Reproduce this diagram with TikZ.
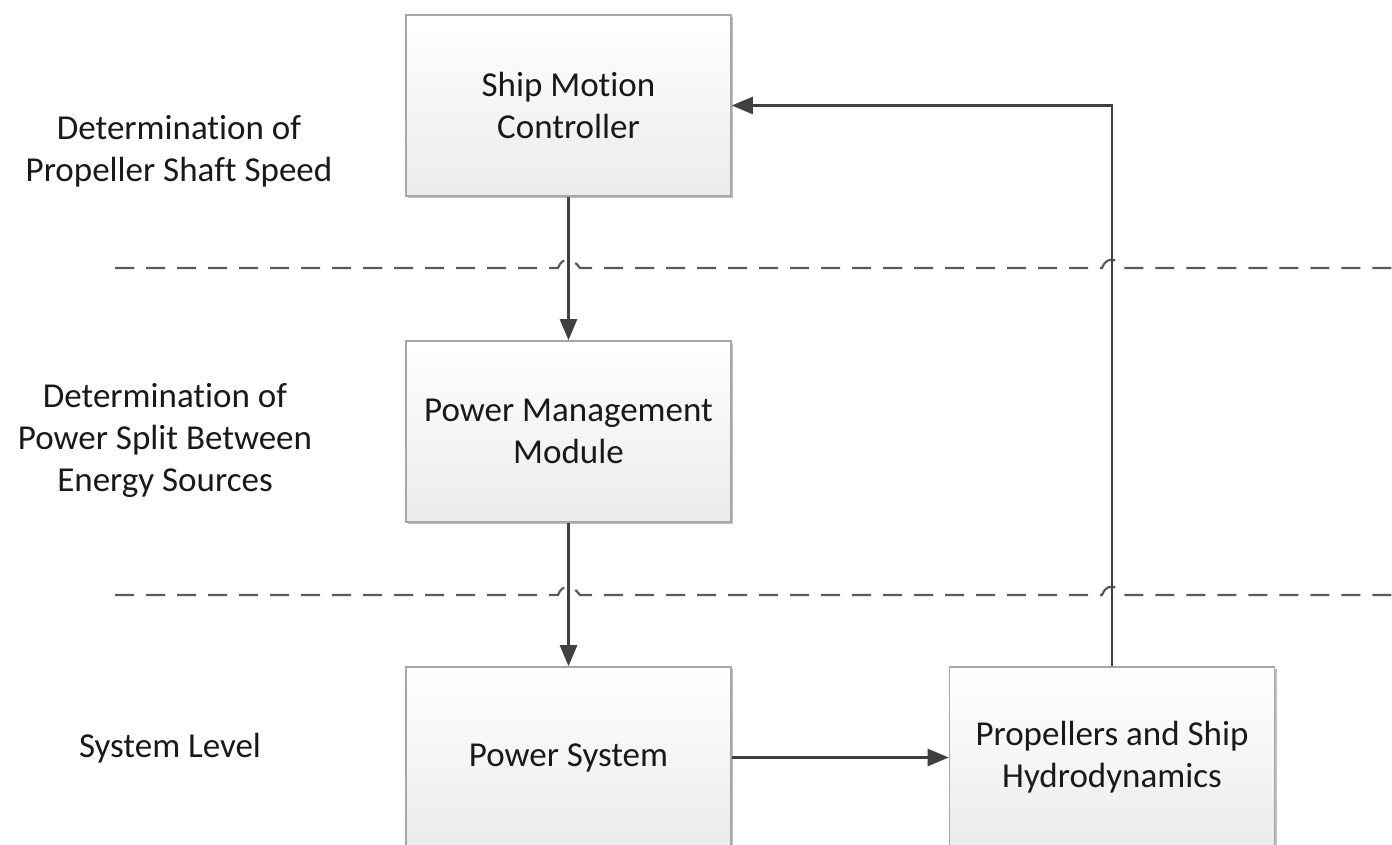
\documentclass[tikz,border=0pt]{standalone}
\usepackage{fontspec}
\setmainfont[Ligatures=NoCommon]{Carlito}
\usetikzlibrary{arrows.meta,shadows}
\definecolor{linegray}{HTML}{404040}
\definecolor{boxborder}{HTML}{A6A6A6}
\definecolor{boxbottom}{HTML}{EBEBEB}
\definecolor{dashgray}{HTML}{5A5A5A}
\tikzset{
  blockbox/.style={draw=boxborder, line width=1.6pt, top color=white, bottom color=boxbottom,
    minimum width=325pt, minimum height=181pt, align=center, inner sep=0pt,
    font=\fontsize{35}{42}\selectfont, text=black!90,
    drop shadow={shadow xshift=2pt, shadow yshift=-2pt, opacity=0.25, fill=black}},
  flowline/.style={draw=linegray, line width=2.6pt, -{Triangle[length=21pt,width=17pt]}},
  levelline/.style={draw=dashgray, line width=2.2pt, dash pattern=on 19pt off 12pt},
  leveltext/.style={align=center, font=\fontsize{35}{42}\selectfont, text=black!90, inner sep=0pt}
}
\begin{document}
\begin{tikzpicture}[x=1pt,y=-1pt]
\useasboundingbox (0,0) rectangle (1392,844);
\clip (0,0) rectangle (1392,844);
\fill[white] (0,0) rectangle (1392,844);

% level texts
\node[leveltext] (t1) at (179,151) {Determination of\\Propeller Shaft Speed};
\node[leveltext] (t2) at (165,440) {Determination of\\Power Split Between\\Energy Sources};
\node[leveltext] (t3) at (170,748) {System Level};

% dashed level separators with hops
\draw[levelline] (115,268) -- (558,268) .. controls (562,257) and (572,257) .. (580,268)
  -- (1102,268) .. controls (1106,257) and (1116,257) .. (1124,268) -- (1392,268);
\draw[levelline] (115,595) -- (558,595) .. controls (562,584) and (572,584) .. (580,595)
  -- (1102,595) .. controls (1106,584) and (1116,584) .. (1124,595) -- (1392,595);

% blocks
\node[blockbox] (smc) at (568.5,105.5) {Ship Motion\\Controller};
\node[blockbox] (pmm) at (568.5,431.5) {Power Management\\Module};
\node[blockbox] (ps) at (568.5,757.5) {Power System};
\node[blockbox] (prop) at (1112,757.5) {Propellers and Ship\\Hydrodynamics};

% connectors
\draw[flowline] (smc.south) -- (pmm.north);
\draw[flowline] (pmm.south) -- (ps.north);
\draw[flowline] (ps.east) -- (prop.west);
\draw[flowline] (prop.north) |- (smc.east);
\end{tikzpicture}
\end{document}
